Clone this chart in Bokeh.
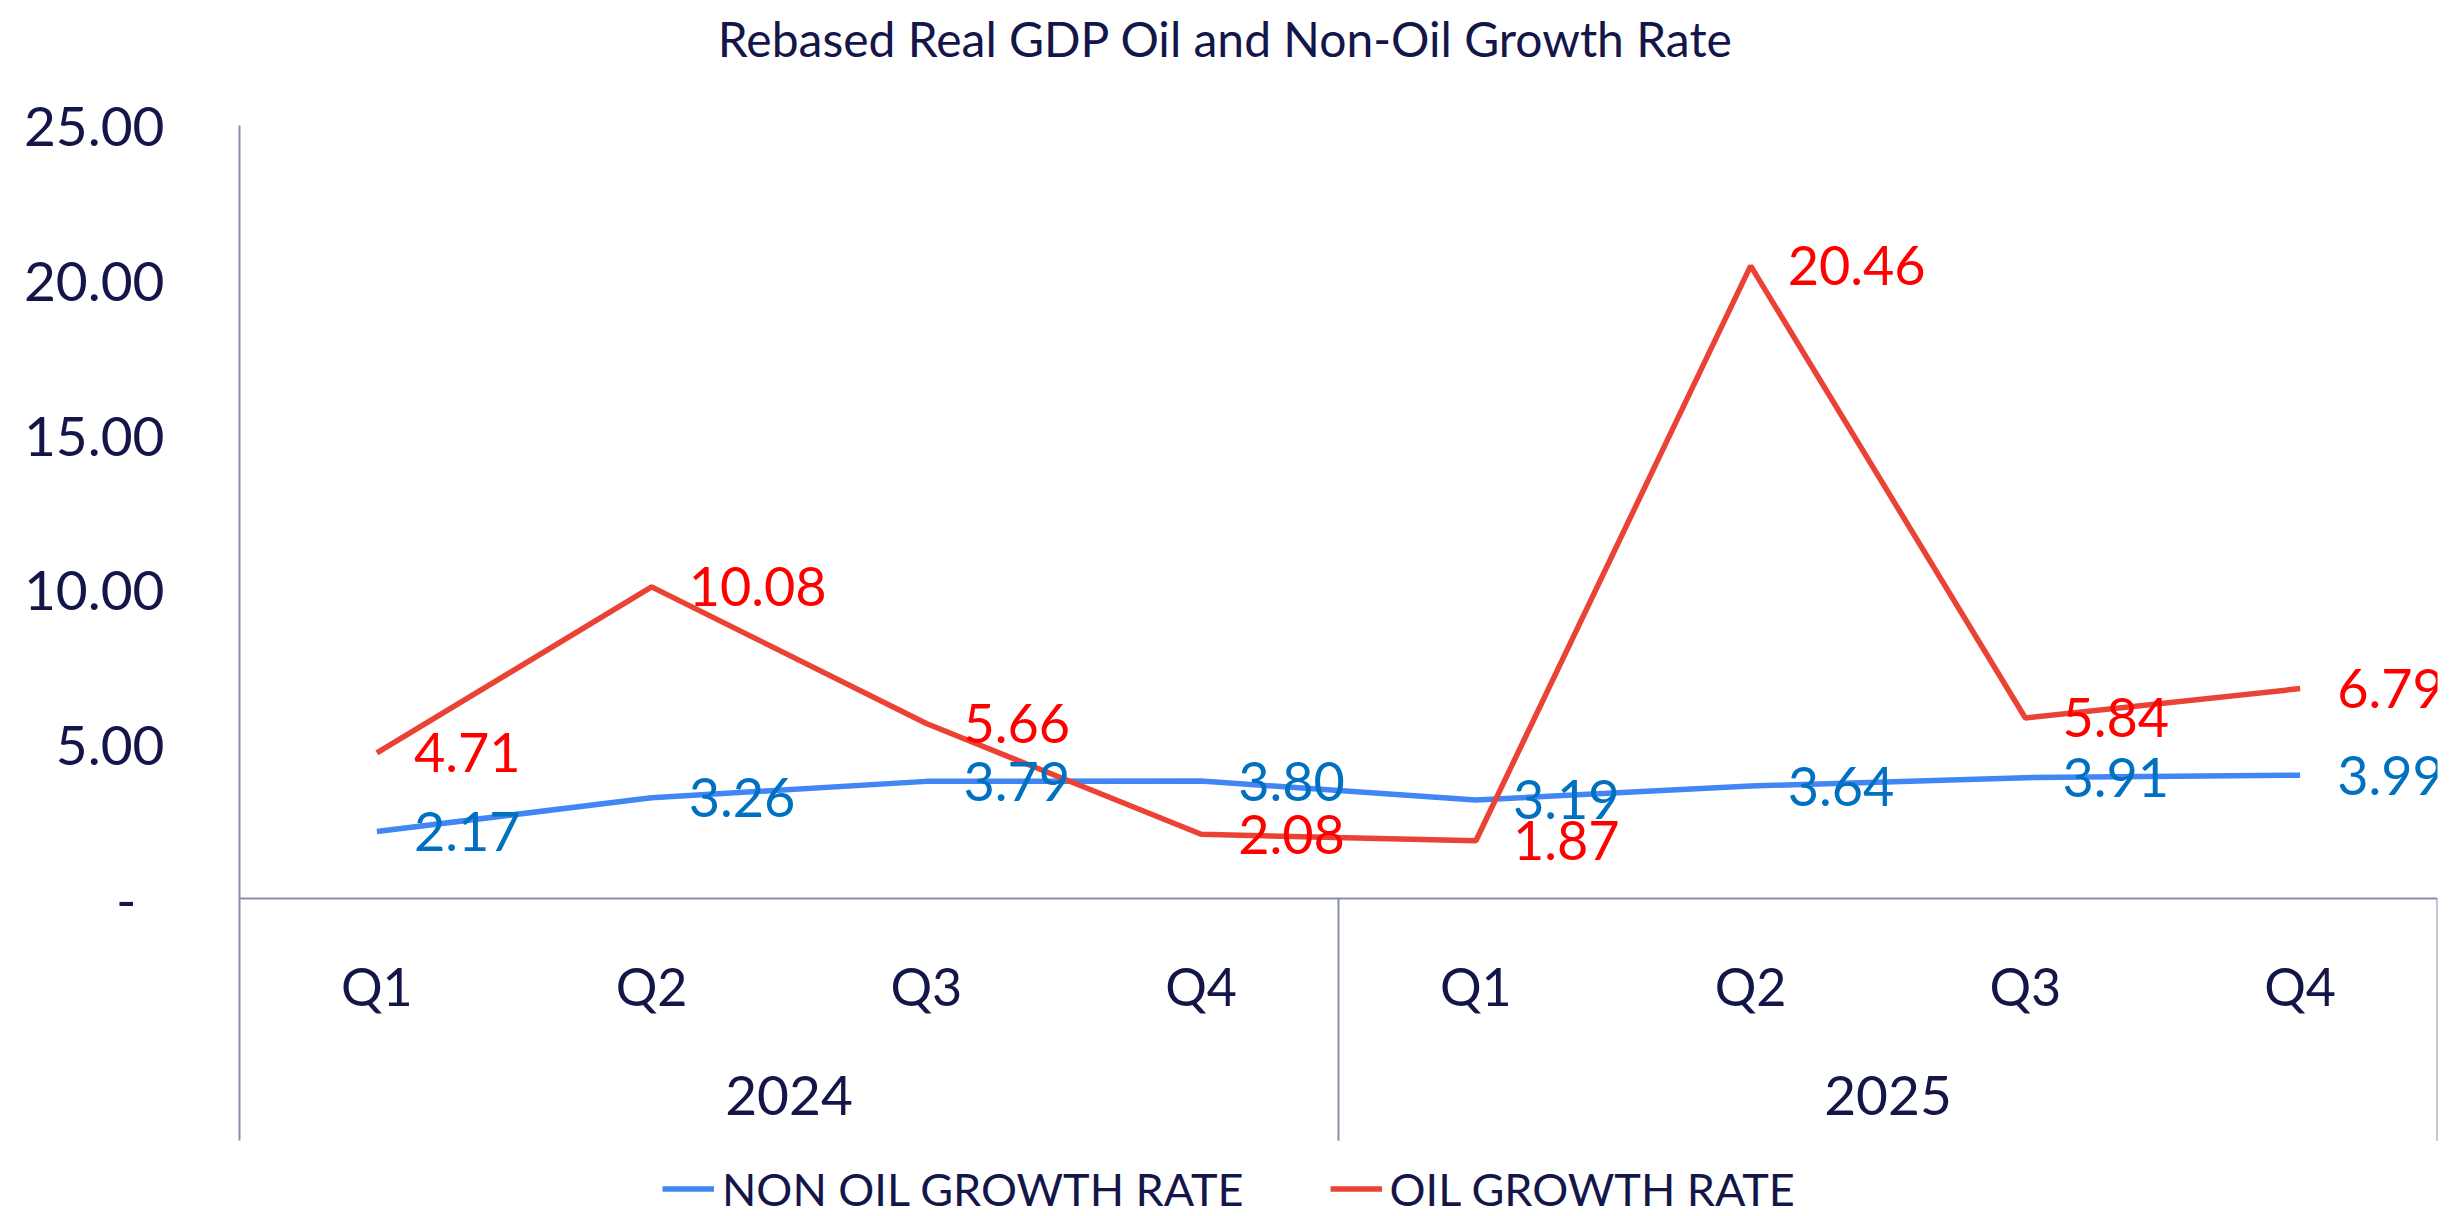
from bokeh.plotting import figure
from bokeh.models import (ColumnDataSource, FactorRange, Range1d, FixedTicker,
                          Legend, LegendItem, LabelSet, Label)
from bokeh.core.properties import value
from bokeh.embed import file_html
from bokeh.resources import INLINE

# ---------------- data ----------------
title_text = "Rebased Real GDP Oil and Non-Oil Growth Rate"
years = ["2024", "2025"]
quarters = ["Q1", "Q2", "Q3", "Q4"]
non_oil_growth = [2.17, 3.26, 3.79, 3.80, 3.19, 3.64, 3.91, 3.99]
oil_growth = [4.71, 10.08, 5.66, 2.08, 1.87, 20.46, 5.84, 6.79]
y_ticks = [0, 5, 10, 15, 20, 25]
y_tick_labels = ["-\u00a0\u00a0", "5.00", "10.00", "15.00", "20.00", "25.00"]
series_names = ["NON OIL GROWTH RATE", "OIL GROWTH RATE"]

# ---------------- styles ----------------
NAVY = "#14164a"
AXIS = "#878dab"
BLUE_LINE = "#4285f4"
RED_LINE = "#ea4335"
BLUE_LABEL = "#0070c0"
RED_LABEL = "#ff0000"
FONT = "Lato"

AXIS_TOP = 25          # top of the value axis
VIEW_TOP = 29.04       # frame reaches the top of the canvas (room for the title)
VIEW_BOTTOM = -10.28   # frame reaches the bottom of the canvas (room for the legend)
BOX_BOTTOM = -7.83     # bottom of the category label box

factors = [(y, q) for y in years for q in quarters]
source = ColumnDataSource(dict(
    x=factors,
    non_oil=non_oil_growth,
    oil=oil_growth,
    non_oil_txt=[f"{v:.2f}" for v in non_oil_growth],
    oil_txt=[f"{v:.2f}" for v in oil_growth],
))

p = figure(x_range=FactorRange(*factors, factor_padding=0, group_padding=0, range_padding=0),
           y_range=Range1d(VIEW_BOTTOM, VIEW_TOP), title=None,
           width=2449, height=1216, output_backend="svg", toolbar_location=None,
           min_border_left=239, min_border_right=12, min_border_top=0, min_border_bottom=0)

p.outline_line_color = None
p.xgrid.visible = False
p.ygrid.visible = False

# chart title (inside the top strip of the frame)
p.add_layout(Label(x=986, y=1178, x_units="screen", y_units="screen", text=title_text,
                   text_align="center", text_baseline="middle",
                   text_font=FONT, text_font_size="48px", text_color=NAVY))

# y axis
yax = p.yaxis[0]
yax.ticker = FixedTicker(ticks=y_ticks)
yax.major_label_overrides = {t: l for t, l in zip(y_ticks, y_tick_labels)}
yax.bounds = (BOX_BOTTOM, AXIS_TOP)
yax.major_tick_out = 0
yax.major_tick_in = 0
yax.minor_tick_line_color = None
yax.major_tick_line_color = None
yax.major_label_standoff = 75
yax.axis_line_color = AXIS
yax.axis_line_width = 2
yax.major_label_text_font = FONT
yax.major_label_text_font_size = "55px"
yax.major_label_text_color = NAVY

# x axis (categorical, sitting on y = 0)
xax = p.xaxis[0]
xax.fixed_location = 0
xax.axis_line_color = AXIS
xax.axis_line_width = 2
xax.major_tick_line_color = None
xax.major_tick_out = 0
xax.major_tick_in = 0
xax.separator_line_color = None
xax.major_label_standoff = 56
xax.major_label_text_font = FONT
xax.major_label_text_font_size = "52px"
xax.major_label_text_color = NAVY
xax.group_text_font = FONT
xax.group_text_font_size = "55px"
xax.group_text_font_style = "normal"
xax.group_text_color = NAVY

# group separators in the category label box
boundaries = [len(quarters) * (i + 1) for i in range(len(years))]
p.segment(x0=boundaries, y0=[0] * len(boundaries), x1=boundaries,
          y1=[BOX_BOTTOM] * len(boundaries), line_color=AXIS, line_width=2)

# lines
r_blue = p.line(x="x", y="non_oil", source=source, line_color=BLUE_LINE, line_width=5.5)
r_red = p.line(x="x", y="oil", source=source, line_color=RED_LINE, line_width=5.5)

# data labels
for col, txt, color in [("non_oil", "non_oil_txt", BLUE_LABEL), ("oil", "oil_txt", RED_LABEL)]:
    p.add_layout(LabelSet(x="x", y=col, text=txt, source=source, x_offset=37,
                          text_align="left", text_baseline="middle",
                          text_font=value(FONT), text_font_size="54px",
                          text_color=color))

legend = Legend(items=[LegendItem(label=series_names[0], renderers=[r_blue]),
                       LegendItem(label=series_names[1], renderers=[r_red])],
                orientation="horizontal", location=(423, 0),
                padding=0, margin=0, spacing=86,
                glyph_width=52, glyph_height=55, label_height=55, label_standoff=8,
                label_text_font=FONT, label_text_font_size="45px", label_text_color=NAVY,
                border_line_color=None, background_fill_alpha=0)
p.add_layout(legend)

open("out.html", "w").write(file_html(p, INLINE))
